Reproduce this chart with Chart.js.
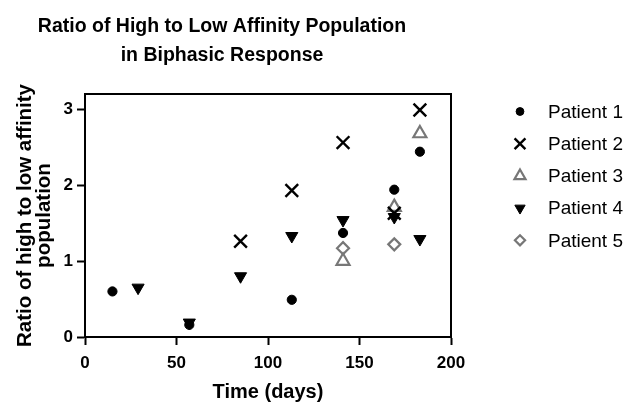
<!DOCTYPE html>
<html>
<head>
<meta charset="utf-8">
<script src="https://cdn.jsdelivr.net/npm/chart.js@4.4.1/dist/chart.umd.min.js"></script>
<style>
html,body{margin:0;padding:0;background:#fff;}
#wrap{width:630px;height:404px;position:relative;}
</style>
</head>
<body>
<div id="wrap"><canvas id="c" width="630" height="404"></canvas></div>
<script>
// ---- data ----
const chartTitle = ["Ratio of High to Low Affinity Population", "in Biphasic Response"];
const xTitle = "Time (days)";
const yTitle = ["Ratio of high to low affinity", "population"];
const seriesNames = ["Patient 1", "Patient 2", "Patient 3", "Patient 4", "Patient 5"];

const p1Days = [15, 57, 113, 141, 169, 183];
const p1Vals = [0.60, 0.16, 0.49, 1.37, 1.94, 2.44];
const p2Days = [85, 113, 141, 169, 183];
const p2Vals = [1.26, 1.93, 2.56, 1.63, 2.99];
const p3Days = [141, 169, 183];
const p3Vals = [1.00, 1.71, 2.68];
const p4Days = [29, 57, 85, 113, 141, 169, 183];
const p4Vals = [0.65, 0.19, 0.80, 1.33, 1.54, 1.58, 1.29];
const p5Days = [141, 169];
const p5Vals = [1.17, 1.22];

const xTicks = [0, 50, 100, 150, 200];
const yTicks = [0, 1, 2, 3];

function pts(xs, ys){ return xs.map((x,i)=>({x:x, y:ys[i]})); }

const FONT = "'Liberation Sans', Arial, sans-serif";
const GRAY = '#777777';

const datasets = [
  {label: seriesNames[0], data: pts(p1Days,p1Vals), pointStyle:'circle', pointRadius:4.6, backgroundColor:'#000', borderColor:'#000', borderWidth:1, order:5},
  {label: seriesNames[1], data: pts(p2Days,p2Vals), pointStyle:'crossRot', pointRadius:9, backgroundColor:'#000', borderColor:'#000', borderWidth:2.4, order:1},
  {label: seriesNames[2], data: pts(p3Days,p3Vals), pointStyle:'triangle', pointRadius:7.5, backgroundColor:'rgba(0,0,0,0)', borderColor:GRAY, borderWidth:2.2, order:4},
  {label: seriesNames[3], data: pts(p4Days,p4Vals), pointStyle:'triangle', pointRotation:180, pointRadius:7, backgroundColor:'#000', borderColor:'#000', borderWidth:1, order:2},
  {label: seriesNames[4], data: pts(p5Days,p5Vals), pointStyle:'rectRot', pointRadius:6, backgroundColor:'rgba(0,0,0,0)', borderColor:GRAY, borderWidth:2.2, order:3}
];
datasets.forEach(d => { d.pointHoverRadius = d.pointRadius; d.showLine = false; });

const decor = {
  id: 'decor',
  afterDraw(chart){
    const ctx = chart.ctx;
    const a = chart.chartArea;
    ctx.save();
    // frame (top & right sides)
    ctx.strokeStyle = '#000';
    ctx.lineWidth = 2;
    ctx.beginPath();
    ctx.moveTo(a.left, a.top);
    ctx.lineTo(a.right, a.top);
    ctx.lineTo(a.right, a.bottom);
    ctx.stroke();
    // main title
    ctx.fillStyle = '#000';
    ctx.textAlign = 'center';
    ctx.textBaseline = 'alphabetic';
    ctx.font = 'bold 19.5px ' + FONT;
    ctx.fillText(chartTitle[0], 222, 32);
    ctx.fillText(chartTitle[1], 222, 61);
    // x title
    ctx.font = 'bold 20px ' + FONT;
    ctx.fillText(xTitle, (a.left + a.right)/2, 398);
    // y title
    ctx.save();
    ctx.font = 'bold 20.5px ' + FONT;
    ctx.translate(0, (a.top + a.bottom)/2);
    ctx.rotate(-Math.PI/2);
    ctx.fillText(yTitle[0], 0, 31);
    ctx.fillText(yTitle[1], 0, 50);
    ctx.restore();
    // legend (drawn from the datasets)
    ctx.font = '19px ' + FONT;
    ctx.textAlign = 'left';
    ctx.textBaseline = 'middle';
    chart.data.datasets.forEach((d, i) => {
      const y = 111.5 + 32.2*i;
      const opt = {
        pointStyle: d.pointStyle,
        rotation: d.pointRotation || 0,
        radius: d.pointRadius * 0.85,
        borderWidth: d.borderWidth
      };
      ctx.fillStyle = d.backgroundColor;
      ctx.strokeStyle = d.borderColor;
      ctx.lineWidth = d.borderWidth;
      Chart.helpers.drawPoint(ctx, opt, 520, y);
      ctx.fillStyle = '#000';
      ctx.fillText(d.label, 548, y + 1);
    });
    ctx.restore();
  }
};

new Chart(document.getElementById('c'), {
  type: 'scatter',
  data: { datasets: datasets },
  options: {
    responsive: false,
    animation: false,
    events: [],
    layout: { padding: { left: 0, right: 179, top: 94, bottom: 0 } },
    plugins: { legend: { display: false }, title: { display: false }, tooltip: { enabled: false } },
    scales: {
      x: {
        type: 'linear', min: 0, max: 200,
        afterFit(s){ s.height = 67; },
        afterBuildTicks(s){ s.ticks = xTicks.map(v => ({value: v})); },
        ticks: { color:'#000', font:{family:FONT, size:17, weight:'bold'}, padding:8, maxRotation:0 },
        grid: { drawOnChartArea:false, drawTicks:true, tickLength:8, tickWidth:2, tickColor:'#000' },
        border: { display:true, color:'#000', width:2 }
      },
      y: {
        type: 'linear', min: 0, max: 3.2,
        afterFit(s){ s.width = 85; },
        afterBuildTicks(s){ s.ticks = yTicks.map(v => ({value: v})); },
        ticks: { color:'#000', font:{family:FONT, size:17, weight:'bold'}, padding:4 },
        grid: { drawOnChartArea:false, drawTicks:true, tickLength:8, tickWidth:2, tickColor:'#000' },
        border: { display:true, color:'#000', width:2 }
      }
    }
  },
  plugins: [decor]
});
</script>
</body>
</html>
